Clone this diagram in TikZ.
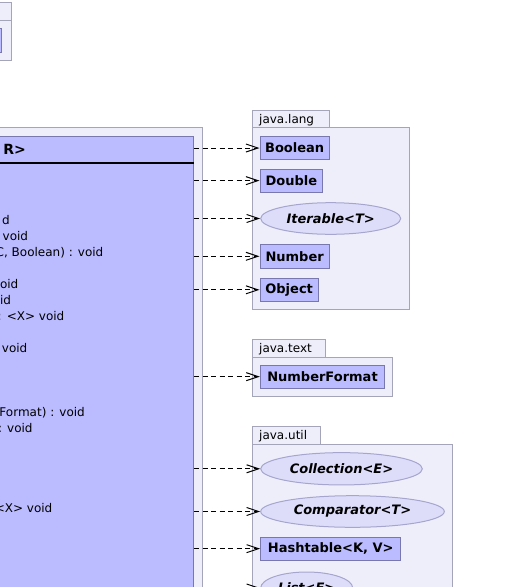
\documentclass[tikz,border=0pt]{standalone}
\usepackage{fontspec}
\setmainfont{DejaVu Sans}
\usetikzlibrary{shapes.geometric,arrows.meta}
\definecolor{pkgfill}{RGB}{238,238,251}
\definecolor{pkgborder}{RGB}{165,165,185}
\definecolor{clsfill}{RGB}{187,187,255}
\definecolor{clsborder}{RGB}{120,120,175}
\definecolor{ifcfill}{RGB}{221,221,250}
\definecolor{ifcborder}{RGB}{165,165,205}
\begin{document}
\begin{tikzpicture}[x=1pt,y=-1pt,
  pkg/.style={draw=pkgborder, fill=pkgfill, line width=1pt},
  clsbox/.style={draw=clsborder, fill=clsfill, line width=1pt, inner sep=0pt, font=\fontsize{13}{15}\bfseries\selectfont},
  ifcbox/.style={ellipse, draw=ifcborder, fill=ifcfill, line width=1pt, inner sep=0pt, font=\fontsize{13}{15}\bfseries\itshape\selectfont},
  member/.style={anchor=base east, inner sep=0pt, font=\fontsize{12}{14}\selectfont},
  tablabel/.style={anchor=base west, inner sep=0pt, font=\fontsize{12}{14}\selectfont},
  dep/.style={draw=black, line width=1pt, dash pattern=on 5pt off 3.5pt, -{Straight Barb[length=12pt,width=8pt]}}
]
\useasboundingbox (0,0) rectangle (532,587);
% top-left package (partly visible)
\path[pkg] (-10,2.7) rectangle (11.5,20);
\path[pkg] (-10,20) rectangle (11.5,60);
\node[clsbox, anchor=north east, minimum width=30pt, minimum height=24pt] (topcls) at (1.7,28) {};
% big package and class
\path[pkg] (-320,127) rectangle (202,760);
\node[clsbox, anchor=north east, minimum width=500pt, minimum height=600pt] (main) at (194,136) {};
\node[anchor=base east, inner sep=0pt, font=\fontsize{14}{16}\bfseries\selectfont] (title) at (26,154) {R>};
\coordinate (sepy) at (0,163);
\draw[line width=2pt] (main.west |- sepy) -- (main.east |- sepy);
\node[member] (m0) at (10,224.2) {d};
\node[member] (m1) at (28.3,240.2) {void};
\node[member] (m2) at (103.5,256.2) {C, Boolean) : void};
\node[member] (m4) at (18.5,288.2) {oid};
\node[member] (m5) at (11.3,304.2) {id};
\node[member] (m6) at (64.5,320.2) {: <X> void};
\node[member] (m8) at (27.5,352.2) {void};
\node[member] (m12) at (85,416.2) {Format) : void};
\node[member] (m13) at (32.8,432.2) {: void};
\node[member] (m18) at (52.5,512.2) {<X> void};
% java.lang
\path[pkg] (252.3,110) rectangle (329.3,127.3);
\path[pkg] (252.3,127.3) rectangle (409,309.3);
\node[tablabel] (langlbl) at (259,123) {java.lang};
\node[clsbox, minimum width=69.3pt, minimum height=22.6pt] (boolean) at (294.65,148) {Boolean};
\node[clsbox, minimum width=62.7pt, minimum height=22.7pt] (double) at (291.35,180.65) {Double};
\node[ifcbox, minimum width=140pt, minimum height=31.6pt] (iterable) at (330.7,218.5) {Iterable<T>};
\node[clsbox, minimum width=69.3pt, minimum height=24pt] (number) at (294.65,256.3) {Number};
\node[clsbox, minimum width=58.3pt, minimum height=23pt] (object) at (289.15,289.8) {Object};
% java.text
\path[pkg] (252.3,339.3) rectangle (325.7,357.3);
\path[pkg] (252.3,357.3) rectangle (392.3,396);
\node[tablabel] (textlbl) at (259,352.3) {java.text};
\node[clsbox, minimum width=124.4pt, minimum height=23.3pt] (numberformat) at (322.5,376.65) {NumberFormat};
% java.util
\path[pkg] (252.3,426) rectangle (320.3,444.3);
\path[pkg] (252.3,444.3) rectangle (452.7,760);
\node[tablabel] (utillbl) at (259,439) {java.util};
\node[ifcbox, minimum width=161.6pt, minimum height=32.3pt] (collection) at (341.5,468.8) {Collection<E>};
\node[ifcbox, minimum width=183.6pt, minimum height=31.6pt] (comparator) at (352.5,511.5) {Comparator<T>};
\node[clsbox, minimum width=140pt, minimum height=22.7pt] (hashtable) at (330.7,548.65) {Hashtable<K, V>};
\node[ifcbox, minimum width=92pt, minimum height=32pt] (list) at (306.7,588) {List<E>};
% dependencies
\foreach \t in {boolean,double,iterable,number,object,numberformat,collection,comparator,hashtable,list}
  \draw[dep] (main.east |- \t.west) -- (\t.west);
\end{tikzpicture}
\end{document}
